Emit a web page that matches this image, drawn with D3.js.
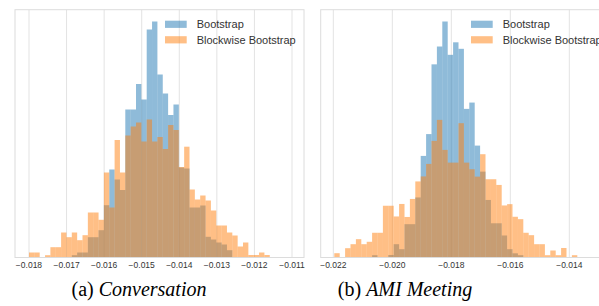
<!DOCTYPE html>
<html>
<head>
<meta charset="utf-8">
<script src="https://cdn.jsdelivr.net/npm/d3@7"></script>
<style>
  body { margin: 0; background: #fff; }
  svg { display: block; }
  .tick-label { font-family: "Liberation Sans", Arial, sans-serif; font-size: 8.5px; fill: #333; }
  .legend-text { font-family: "Liberation Sans", Arial, sans-serif; font-size: 11px; fill: #333; }
  .caption { font-family: "Liberation Serif", "Times New Roman", serif; font-size: 20px; fill: #000; }
</style>
</head>
<body>
<div id="chart"></div>
<script>
// DATA (bar heights, arbitrary count units)
const seriesNames = ["Bootstrap", "Blockwise Bootstrap"];

// (a) Conversation
const convTicks = [-0.018, -0.017, -0.016, -0.015, -0.014, -0.013, -0.012, -0.011];
const convBinStart = -0.018;
const convBinWidth = 0.0001424;
const convBoot = [0, 0, 0, 0, 0, 0, 0, 0, 2.3, 5, 5, 20.3, 20.3, 27.3, 52.3, 88, 78, 67.5,
  148, 148, 173.5, 158, 228, 236, 183, 164, 142.5, 153, 90, 89, 50, 50, 52, 20.7, 18, 15,
  13, 7.3, 0, 0, 0, 0, 0, 0, 0];
const convBlock = [5, 5, 0, 2.3, 10.3, 10.3, 25, 20.3, 25, 17.3, 22.3, 45, 45, 37.7, 85, 50,
  117.5, 85, 122, 131, 135, 116, 138, 116, 120.5, 108.5, 132.5, 127.5, 90.5, 110.8, 68, 58,
  62, 57, 47, 32, 32, 25, 22, 11, 15, 2.5, 2.5, 5, 2.5];

// (b) AMI Meeting
const amiTicks = [-0.022, -0.020, -0.018, -0.016, -0.014];
const amiBinStart = -0.021966;
const amiBinWidth = 0.00018305;
const amiBoot = [0, 0, 0, 0, 0, 0, 0, 2.3, 0, 0, 2.5, 13.3, 8.3, 33.3, 33.3, 60, 101.5, 123.3,
  193, 210.8, 235.8, 202.5, 215, 208.5, 148.5, 154.8, 111.8, 85.8, 57.5, 34.2, 34.2, 22, 8.3,
  4.2, 2.3, 0, 0, 0, 0, 0, 0, 0, 0, 0, 0];
const amiBlock = [4.3, 0, 9.3, 13.3, 18.3, 13.3, 15.7, 24.7, 24.7, 51.7, 51.7, 41, 53.5, 40.5,
  58.5, 76, 81, 93.5, 116.5, 137.5, 107.5, 94.8, 94.8, 134.2, 94.8, 88.2, 80.8, 103.2, 78.2,
  78.2, 72.5, 52, 53.3, 40.7, 38.3, 24.7, 22.3, 13.3, 13.3, 2.3, 7, 2.3, 9.5, 0, 2.3];

const captions = [["(a) ", "Conversation"], ["(b) ", "AMI Meeting"]];

// 1: SVG
const W = 599, H = 306;
const svg = d3.select("#chart").append("svg")
    .attr("width", W)
    .attr("height", H);

const colors = ["#1f77b4", "#ff7f0e"];
const yTop = 9.7, yBottom = 257.5;

const panels = [
  { left: 15, right: 304, domain: [-0.0183726, -0.0106806], ticks: convTicks,
    start: convBinStart, step: convBinWidth, series: [convBoot, convBlock],
    legendX: 165, captionX: 139 },
  { left: 320.7, right: 610, domain: [-0.0224271, -0.0126203], ticks: amiTicks,
    start: amiBinStart, step: amiBinWidth, series: [amiBoot, amiBlock],
    legendX: 471, captionX: 405 }
];

panels.forEach((p, pi) => {
  const x = d3.scaleLinear().domain(p.domain).range([p.left, p.right]);
  const maxCount = d3.max(p.series.flat());
  const y = d3.scaleLinear().domain([0, maxCount * 1.05]).range([yBottom, yTop]);

  const g = svg.append("g");

  // grid lines (vertical only)
  g.selectAll("line.grid")
    .data(p.ticks)
    .enter().append("line")
    .attr("x1", d => x(d)).attr("x2", d => x(d))
    .attr("y1", yTop).attr("y2", yBottom)
    .attr("stroke", "#e3e3e3")
    .attr("stroke-width", 1);

  // histogram bars
  p.series.forEach((counts, si) => {
    g.append("g").selectAll("rect")
      .data(counts.map((c, i) => ({ c, x0: p.start + i * p.step, x1: p.start + (i + 1) * p.step }))
        .filter(d => d.c > 0))
      .enter().append("rect")
      .attr("x", d => x(d.x0))
      .attr("width", d => x(d.x1) - x(d.x0))
      .attr("y", d => y(d.c))
      .attr("height", d => yBottom - y(d.c))
      .attr("fill", colors[si])
      .attr("fill-opacity", 0.5);
  });

  // frame
  g.append("rect")
    .attr("x", p.left).attr("y", yTop)
    .attr("width", p.right - p.left).attr("height", yBottom - yTop)
    .attr("fill", "none")
    .attr("stroke", "#dcdcdc")
    .attr("stroke-width", 1);

  // tick labels
  g.selectAll("text.tick-label")
    .data(p.ticks)
    .enter().append("text")
    .attr("class", "tick-label")
    .attr("x", d => x(d))
    .attr("y", 268)
    .attr("text-anchor", "middle")
    .text(d => d3.format(".3f")(d).replace("-", "\u2212"));

  // legend
  seriesNames.forEach((name, si) => {
    g.append("rect")
      .attr("x", p.legendX).attr("y", 20.7 + si * 15.5)
      .attr("width", 21.7).attr("height", 7.2)
      .attr("fill", colors[si]).attr("fill-opacity", 0.5);
    g.append("text")
      .attr("class", "legend-text")
      .attr("x", p.legendX + 31.7)
      .attr("y", 28.3 + si * 15.7)
      .text(name);
  });

  // caption
  const cap = svg.append("text")
    .attr("class", "caption")
    .attr("x", p.captionX)
    .attr("y", 295.5)
    .attr("text-anchor", "middle");
  cap.append("tspan").text(captions[pi][0]);
  cap.append("tspan").attr("font-style", "italic").text(captions[pi][1]);
});
</script>
</body>
</html>
